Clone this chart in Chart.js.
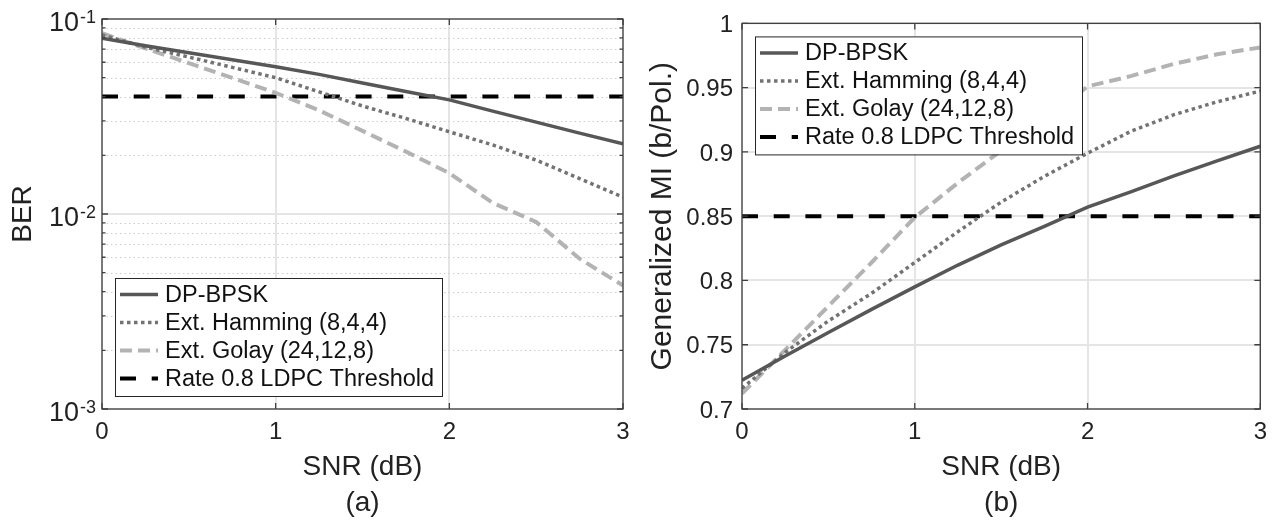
<!DOCTYPE html>
<html>
<head>
<meta charset="utf-8">
<script src="https://cdn.jsdelivr.net/npm/chart.js@4.4.1/dist/chart.umd.min.js"></script>
<style>
  html, body { margin: 0; padding: 0; background: #fff; }
  #wrap { position: relative; width: 1276px; height: 525px; }
  .panel { position: absolute; top: 0; height: 525px; }
  #panelA { left: 0; width: 640px; }
  #panelB { left: 640px; width: 636px; }
</style>
</head>
<body>
<div id="wrap">
  <div class="panel" id="panelA"><canvas id="berChart"></canvas></div>
  <div class="panel" id="panelB"><canvas id="miChart"></canvas></div>
</div>
<script>
// SNR points (dB)
const snr = [0, 0.25, 0.5, 0.75, 1, 1.25, 1.5, 1.75, 2, 2.25, 2.5, 2.75, 3];
const snrTicks = [0, 1, 2, 3];

// (a) BER
const berBpsk    = [0.0797, 0.0730, 0.0671, 0.0618, 0.0569, 0.0520, 0.0470, 0.0425, 0.0385, 0.0337, 0.0296, 0.0260, 0.0229];
const berHamming = [0.0828, 0.0718, 0.0638, 0.0565, 0.0500, 0.0423, 0.0358, 0.0309, 0.0264, 0.0226, 0.0189, 0.0152, 0.0122];
const berGolay   = [0.0847, 0.0707, 0.0594, 0.0499, 0.0418, 0.0340, 0.0267, 0.0209, 0.0162, 0.0114, 0.0091, 0.0059, 0.0043];
const berThreshold = 0.04;
const berTicks = [0.001, 0.01, 0.1];
const berTickExp = ['-3', '-2', '-1'];

// (b) generalized MI
const miBpsk    = [0.7223, 0.7413, 0.7595, 0.7775, 0.795, 0.812, 0.8277, 0.842, 0.857, 0.869, 0.8813, 0.893, 0.9044];
const miHamming = [0.716, 0.744, 0.7685, 0.790, 0.814, 0.838, 0.861, 0.881, 0.899, 0.916, 0.929, 0.939, 0.9474];
const miGolay   = [0.712, 0.746, 0.780, 0.814, 0.849, 0.876, 0.901, 0.924, 0.951, 0.959, 0.9685, 0.976, 0.9813];
const miThreshold = 0.85;
const miTicks = [0.7, 0.75, 0.8, 0.85, 0.9, 0.95, 1];
const miTickLabels = ['0.7', '0.75', '0.8', '0.85', '0.9', '0.95', '1'];

const labels = ['DP-BPSK', 'Ext. Hamming (8,4,4)', 'Ext. Golay (24,12,8)', 'Rate 0.8 LDPC Threshold'];

const FONT = '"Liberation Sans", Arial, Helvetica, sans-serif';
Chart.defaults.font.family = FONT;
Chart.defaults.color = '#222';

// minor log grid positions 2..9 x 10^n
const berMinor = [];
[0.001, 0.01].forEach(d => { for (let k = 2; k <= 9; k++) berMinor.push(k * d); });

function toPoints(ys) {
  return snr.map((x, i) => ({ x: x, y: ys[i] }));
}
function flat(v) {
  return [{ x: snr[0], y: v }, { x: snr[snr.length - 1], y: v }];
}

function makeSets(a, b, c, thr) {
  return [
    { label: labels[0], data: toPoints(a), borderColor: '#575757', borderWidth: 3.5 },
    { label: labels[1], data: toPoints(b), borderColor: '#737373', borderWidth: 3.5, borderDash: [3.5, 3.5] },
    { label: labels[2], data: toPoints(c), borderColor: '#b3b3b3', borderWidth: 4, borderDash: [12, 6] },
    { label: labels[3], data: flat(thr), borderColor: '#000000', borderWidth: 4, borderDash: [16, 15.7] },
  ];
}

// box, inward ticks, minor grid, power labels and legend in the matlab look
const matlabFrame = {
  id: 'matlabFrame',
  beforeDatasetsDraw(chart, args, opts) {
    if (!opts.minor) return;
    const { ctx, chartArea: a } = chart;
    const y = chart.scales.y;
    ctx.save();
    ctx.strokeStyle = '#cccccc';
    ctx.lineWidth = 1;
    ctx.setLineDash([1.5, 3]);
    opts.minor.forEach(v => {
      const py = Math.round(y.getPixelForValue(v)) + 0.5;
      ctx.beginPath();
      ctx.moveTo(a.left, py);
      ctx.lineTo(a.right, py);
      ctx.stroke();
    });
    ctx.restore();
  },
  afterDatasetsDraw(chart, args, opts) {
    const { ctx, chartArea: a } = chart;
    const x = chart.scales.x, y = chart.scales.y;
    ctx.save();
    ctx.strokeStyle = '#404040';
    ctx.lineWidth = 1.3;
    ctx.strokeRect(a.left, a.top, a.right - a.left, a.bottom - a.top);
    ctx.beginPath();
    x.ticks.forEach(t => {
      const px = x.getPixelForValue(t.value);
      ctx.moveTo(px, a.bottom); ctx.lineTo(px, a.bottom - 6);
      ctx.moveTo(px, a.top); ctx.lineTo(px, a.top + 6);
    });
    y.ticks.forEach(t => {
      const py = y.getPixelForValue(t.value);
      ctx.moveTo(a.left, py); ctx.lineTo(a.left + 6, py);
      ctx.moveTo(a.right, py); ctx.lineTo(a.right - 6, py);
    });
    (opts.minor || []).forEach(v => {
      const py = y.getPixelForValue(v);
      ctx.moveTo(a.left, py); ctx.lineTo(a.left + 3.5, py);
      ctx.moveTo(a.right, py); ctx.lineTo(a.right - 3.5, py);
    });
    ctx.stroke();

    // 10^n labels for the log axis
    if (opts.powers) {
      ctx.fillStyle = '#222';
      ctx.textAlign = 'right';
      ctx.textBaseline = 'middle';
      y.ticks.forEach((t, i) => {
        const py = y.getPixelForValue(t.value);
        const ex = opts.powers[i];
        ctx.font = '18px ' + FONT;
        const ew = ctx.measureText(ex).width;
        ctx.fillText(ex, a.left - 6, py - 1);
        ctx.font = '27px ' + FONT;
        ctx.fillText('10', a.left - 7 - ew, py + 5);
      });
    }

    // legend
    const w = 327, h = 118;
    const bx = a.left + 13;
    const by = opts.legend === 'top' ? a.top + 13 : a.bottom - 13 - h;
    ctx.fillStyle = '#fff';
    ctx.fillRect(bx, by, w, h);
    ctx.strokeStyle = '#262626';
    ctx.lineWidth = 1;
    ctx.strokeRect(bx + 0.5, by + 0.5, w, h);
    chart.data.datasets.forEach((ds, i) => {
      const cy = by + 16.5 + i * 28;
      ctx.strokeStyle = ds.borderColor;
      ctx.lineWidth = ds.borderWidth;
      ctx.setLineDash(ds.borderDash || []);
      ctx.beginPath();
      ctx.moveTo(bx + 5, cy);
      ctx.lineTo(bx + 43, cy);
      ctx.stroke();
      ctx.setLineDash([]);
      ctx.fillStyle = '#111';
      ctx.font = '23.5px ' + FONT;
      ctx.textBaseline = 'middle';
      ctx.textAlign = 'left';
      ctx.fillText(ds.label, bx + 50, cy + 1);
    });
    ctx.restore();
  }
};

function baseOptions(cfg) {
  return {
    responsive: true,
    maintainAspectRatio: false,
    animation: false,
    layout: { padding: { top: 19, right: cfg.padRight, left: 0, bottom: 0 } },
    elements: { point: { radius: 0 }, line: { tension: 0, fill: false } },
    plugins: {
      legend: { display: false },
      tooltip: { enabled: false },
      matlabFrame: { minor: cfg.minor, legend: cfg.legend, powers: cfg.powers },
    },
    scales: {
      x: {
        type: 'linear',
        min: 0,
        max: 3,
        afterBuildTicks: s => { s.ticks = snrTicks.map(v => ({ value: v })); },
        afterFit: s => { s.height = 116; },
        ticks: { font: { size: 24 }, color: '#222', padding: 9 },
        grid: { color: '#e5e5e5', lineWidth: 2, drawTicks: false },
        border: { display: false },
        title: {
          display: true,
          text: ['SNR (dB)', cfg.caption],
          font: { size: 28, lineHeight: 1.2857 },
          color: '#222',
          padding: { top: 0, bottom: 4 },
        },
      },
      y: cfg.y,
    },
  };
}

new Chart(document.getElementById('berChart'), {
  type: 'line',
  data: { datasets: makeSets(berBpsk, berHamming, berGolay, berThreshold) },
  options: baseOptions({
    padRight: 17,
    minor: berMinor,
    powers: berTickExp,
    legend: 'bottom',
    caption: '(a)',
    y: {
      type: 'logarithmic',
      min: 0.001,
      max: 0.1,
      afterBuildTicks: s => { s.ticks = berTicks.map(v => ({ value: v, major: true })); },
      afterFit: s => { s.width = 102; },
      ticks: { display: false },
      grid: { color: '#e5e5e5', lineWidth: 2, drawTicks: false },
      border: { display: false },
      title: { display: true, text: 'BER', font: { size: 28 }, color: '#222', padding: { top: 6, bottom: 0 } },
    },
  }),
  plugins: [matlabFrame],
});

new Chart(document.getElementById('miChart'), {
  type: 'line',
  data: { datasets: makeSets(miBpsk, miHamming, miGolay, miThreshold) },
  options: baseOptions({
    padRight: 14,
    minor: null,
    powers: null,
    legend: 'top',
    caption: '(b)',
    y: {
      type: 'linear',
      min: 0.7,
      max: 1,
      afterBuildTicks: s => { s.ticks = miTicks.map(v => ({ value: v })); },
      afterFit: s => { s.width = 102; },
      ticks: {
        font: { size: 24 },
        color: '#222',
        padding: 9,
        labelOffset: 2,
        callback: v => miTickLabels[miTicks.indexOf(v)],
      },
      grid: { color: '#e5e5e5', lineWidth: 2, drawTicks: false },
      border: { display: false },
      title: { display: true, text: 'Generalized MI (b/Pol.)', font: { size: 30 }, color: '#222', padding: { top: 5, bottom: 0 } },
    },
  }),
  plugins: [matlabFrame],
});
</script>
</body>
</html>
